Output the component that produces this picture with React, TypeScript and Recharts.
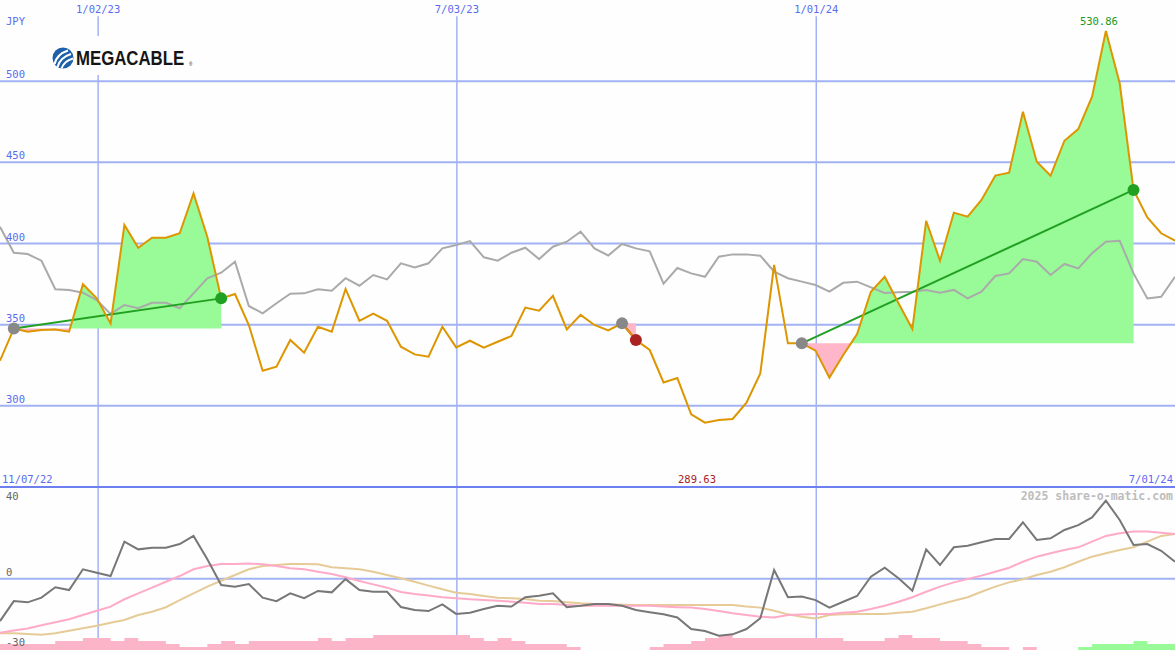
import React from 'react';
import { ComposedChart, Line, Area, XAxis, YAxis, ReferenceLine, ReferenceDot } from 'recharts';

// ---------- data ----------
const weekLabels = { first: '11/07/22', last: '7/01/24' };

const price = [
  327.8, 347.6, 345.7, 346.7, 347.0, 345.7, 374.9, 366.2, 350.8, 411.4,
  397.4, 403.6, 403.6, 406.3, 430.9, 404.0, 366.2, 368.9, 349.8, 321.6,
  324.1, 340.6, 332.7, 348.7, 345.7, 372.0, 352.4, 356.8, 352.4, 336.4,
  331.7, 330.3, 348.7, 336.0, 340.1, 335.8, 339.5, 343.0, 360.5, 358.6,
  367.8, 347.1, 356.0, 349.8, 346.4, 350.8, 340.6, 334.4, 314.4, 317.1,
  294.8, 289.63, 291.3, 291.9, 301.9, 320.0, 386.8, 338.5, 338.5, 334.0,
  317.4, 331.3, 344.2, 370.3, 379.5, 363.2, 347.3, 414.0, 389.4, 419.0,
  416.5, 426.8, 441.8, 443.6, 481.2, 450.4, 441.8, 463.3, 470.5, 490.4,
  530.86, 498.7, 433.0, 416.1, 406.3, 401.7,
];

const relative = [
  410.3, 394.3, 393.5, 389.4, 371.8, 371.4, 369.7, 365.2, 356.6, 362.1,
  360.1, 363.5, 363.5, 360.1, 369.3, 378.6, 382.0, 388.8, 361.5, 357.0,
  363.2, 369.1, 369.3, 371.8, 370.9, 378.6, 374.0, 380.6, 377.9, 387.8,
  385.3, 387.8, 397.0, 399.1, 401.5, 391.5, 389.4, 394.3, 397.4, 390.4,
  398.0, 401.1, 407.3, 397.0, 392.6, 399.7, 397.0, 395.2, 375.2, 384.9,
  381.6, 379.5, 391.9, 393.3, 393.3, 392.5, 382.6, 378.6, 376.5, 374.4,
  370.3, 375.8, 376.5, 373.0, 369.5, 369.9, 370.3, 371.4, 369.7, 371.4,
  366.2, 370.3, 380.0, 381.6, 390.4, 388.8, 380.6, 387.4, 384.7, 394.0,
  401.1, 401.7, 381.6, 366.2, 367.2, 379.5,
];

const osc = [
  -20.8, -11.0, -11.6, -9.3, -4.2, -5.6, 4.6, 2.9, 1.3, 18.2,
  14.4, 15.2, 15.2, 17.0, 21.0, 9.5, -3.1, -3.9, -2.6, -9.3,
  -11.0, -7.2, -9.6, -6.0, -6.7, -0.2, -5.6, -6.4, -6.4, -13.9,
  -15.4, -15.9, -12.6, -17.3, -16.7, -14.9, -13.3, -13.7, -9.1, -8.4,
  -7.2, -14.0, -13.3, -12.4, -12.4, -13.3, -15.4, -16.5, -17.5, -19.0,
  -24.7, -25.7, -28.0, -27.3, -24.7, -19.4, 4.3, -9.1, -8.8, -10.5,
  -14.2, -11.3, -8.5, 1.0, 5.4, 0.2, -5.9, 14.4, 6.7, 15.4,
  16.2, 17.9, 19.5, 19.5, 27.7, 19.0, 19.8, 23.9, 26.3, 30.1,
  38.3, 28.8, 16.5, 17.0, 13.7, 8.3,
];

const oscFast = [
  -26.5, -25.4, -24.4, -22.9, -21.4, -19.9, -17.8, -15.7, -13.7, -10.1,
  -7.2, -4.4, -1.5, 1.3, 4.6, 6.2, 7.2, 7.2, 7.4, 7.1,
  6.2, 5.1, 4.6, 3.4, 2.3, 0.7, -1.1, -2.8, -4.4, -6.5,
  -7.5, -8.3, -9.1, -9.6, -10.1, -10.5, -10.8, -11.3, -11.8, -12.4,
  -12.4, -12.9, -13.3, -13.3, -13.3, -13.3, -13.3, -13.3, -13.7, -14.0,
  -14.2, -14.9, -15.9, -17.0, -17.8, -18.7, -19.0, -17.8, -17.6, -17.3,
  -17.3, -16.7, -16.2, -14.9, -13.3, -11.3, -9.1, -6.4, -3.9, -1.8,
  -0.2, 1.5, 3.4, 5.4, 8.3, 10.8, 12.5, 14.1, 15.4, 18.2,
  21.0, 22.3, 23.1, 23.1, 22.6, 21.9,
];

const oscSlow = [
  -26.8, -26.8, -27.1, -27.5, -26.8, -25.5, -24.3, -23.1, -21.6, -20.3,
  -17.8, -16.2, -14.0, -10.5, -7.2, -3.9, -1.0, 1.8, 4.6, 6.2,
  6.7, 7.2, 7.2, 7.1, 5.6, 5.1, 4.6, 3.4, 1.8, 0.2,
  -1.5, -3.4, -5.2, -6.9, -7.5, -8.5, -9.3, -9.6, -10.0, -10.8,
  -11.0, -11.6, -12.1, -12.4, -12.6, -12.8, -12.9, -12.9, -12.9, -12.9,
  -12.9, -12.9, -12.9, -12.9, -13.7, -14.2, -15.7, -17.5, -18.7, -19.5,
  -17.8, -17.5, -17.3, -17.3, -17.3, -16.7, -16.2, -14.5, -12.6, -10.8,
  -9.1, -6.4, -3.9, -1.8, -0.3, 1.8, 3.4, 5.6, 8.3, 10.8,
  12.5, 14.1, 15.4, 18.2, 21.0, 21.9,
];

const histDown = [
  2, 2, 2, 2, 3, 3, 4, 4, 3, 4,
  3, 3, 2, 1, 1, 2, 3, 2, 3, 3,
  3, 3, 3, 4, 3, 4, 4, 5, 5, 5,
  5, 5, 5, 5, 4, 3, 4, 3, 2, 2,
  2, 1, 0, 0, 0, 0, 0, 1, 2, 2,
  3, 4, 5, 4, 4, 4, 4, 4, 4, 4,
  4, 3, 3, 3, 4, 5, 4, 4, 3, 3,
  2, 1, 1, 0, 1, 0, 0, 0, 0, 0,
  0, 0, 0, 0, 0, 0,
];

const histUp = [
  0, 0, 0, 0, 0, 0, 0, 0, 0, 0,
  0, 0, 0, 0, 0, 0, 0, 0, 0, 0,
  0, 0, 0, 0, 0, 0, 0, 0, 0, 0,
  0, 0, 0, 0, 0, 0, 0, 0, 0, 0,
  0, 0, 0, 0, 0, 0, 0, 0, 0, 0,
  0, 0, 0, 0, 0, 0, 0, 0, 0, 0,
  0, 0, 0, 0, 0, 0, 0, 0, 0, 0,
  0, 0, 0, 0, 0, 0, 0, 0, 1, 2,
  2, 2, 3, 2, 2, 2,
];

const trades = [
  { start: 1, end: 16 },
  { start: 45, end: 46 },
  { start: 58, end: 82 },
];

const dateLines = [
  { x: 7.1, label: '1/02/23' },
  { x: 33.05, label: '7/03/23' },
  { x: 59.05, label: '1/01/24' },
];

const priceTicks = [300, 350, 400, 450, 500];
const oscLabels = [40, 0, -30];
const maxLabel = { value: '530.86', idx: 80 };
const minLabel = { value: '289.63', idx: 51 };

// ---------- layout / style ----------
const W = 1175;
const TOP_H = 487;
const BOT_H = 163;
const X_DOMAIN: [number, number] = [0, 85];
const PRICE_DOMAIN: [number, number] = [250, 550];
const OSC_DOMAIN: [number, number] = [-35, 45];
const HIST_DOMAIN: [number, number] = [0, 54];

const BG = '#fdfefd';
const GRID = '#a3b2f4';
const DIVIDER = '#6e80f0';
const LABEL = '#5b6cf0';
const ORANGE = '#dd9600';
const MONO = "'DejaVu Sans Mono', monospace";
const MARGIN = { top: 0, right: 0, bottom: 0, left: 0 };

const px = (x: number) => (x - X_DOMAIN[0]) / (X_DOMAIN[1] - X_DOMAIN[0]) * W;
const py = (v: number) => (PRICE_DOMAIN[1] - v) / (PRICE_DOMAIN[1] - PRICE_DOMAIN[0]) * TOP_H;
const oy = (v: number) => TOP_H + (OSC_DOMAIN[1] - v) / (OSC_DOMAIN[1] - OSC_DOMAIN[0]) * BOT_H;

function buildTop() {
  const rows: any[] = price.map((p, i) => ({ x: i, price: p, rel: relative[i] }));
  const extra: any[] = [];
  trades.forEach((t, k) => {
    const base = price[t.start];
    for (let i = t.start; i <= t.end; i++) {
      const p = price[i];
      rows[i].green = [base, Math.max(p, base)];
      rows[i].pink = [Math.min(p, base), base];
    }
    for (let i = t.start; i < t.end; i++) {
      const a = price[i] - base;
      const b = price[i + 1] - base;
      if (a * b < 0) {
        const f = a / (a - b);
        extra.push({ x: i + f, price: base, green: [base, base], pink: [base, base] });
      }
    }
    rows[t.start]['trade' + k] = price[t.start];
    rows[t.end]['trade' + k] = price[t.end];
  });
  return [...rows, ...extra].sort((a, b) => a.x - b.x);
}

const topData = buildTop();
const botData = osc.map((v, i) => ({
  x: i,
  osc: v,
  fast: oscFast[i],
  slow: oscSlow[i],
  down: histDown[i],
  up: histUp[i],
}));

const tradeColor = (t: { start: number; end: number }) =>
  price[t.end] >= price[t.start] ? '#22a022' : '#aa2222';

const layer: React.CSSProperties = { position: 'absolute', left: 0 };

export default function App() {
  return (
    <div style={{ position: 'absolute', left: 0, top: 0, width: W, height: 650, background: BG, overflow: 'hidden' }}>
      {/* upper grid (behind) */}
      <div style={{ ...layer, top: 0 }}>
        <ComposedChart width={W} height={TOP_H} data={topData} margin={MARGIN}>
          <XAxis type="number" dataKey="x" domain={X_DOMAIN} hide allowDataOverflow />
          <YAxis type="number" domain={PRICE_DOMAIN} hide allowDataOverflow />
          {priceTicks.map((v) => (
            <ReferenceLine key={v} y={v} stroke={GRID} strokeWidth={2} />
          ))}
          {dateLines.map((d) => (
            <ReferenceLine
              key={d.label}
              segment={[{ x: d.x, y: 540 }, { x: d.x, y: 250 }]}
              stroke={GRID}
              strokeWidth={1.5}
            />
          ))}
        </ComposedChart>
      </div>
      {/* upper series */}
      <div style={{ ...layer, top: 0 }}>
        <ComposedChart width={W} height={TOP_H} data={topData} margin={MARGIN}>
          <XAxis type="number" dataKey="x" domain={X_DOMAIN} hide allowDataOverflow />
          <YAxis type="number" domain={PRICE_DOMAIN} hide allowDataOverflow />
          <Area dataKey="green" type="linear" fill="#98fb98" fillOpacity={1} stroke="none" isAnimationActive={false} dot={false} activeDot={false} />
          <Area dataKey="pink" type="linear" fill="#ffb6c8" fillOpacity={1} stroke="none" isAnimationActive={false} dot={false} activeDot={false} />
          <Line dataKey="rel" type="linear" stroke="#aaaaaa" strokeWidth={2} dot={false} activeDot={false} connectNulls isAnimationActive={false} />
          {trades.map((t, k) => (
            <Line
              key={'t' + k}
              dataKey={'trade' + k}
              type="linear"
              stroke={tradeColor(t)}
              strokeWidth={2}
              dot={false}
              activeDot={false}
              connectNulls
              isAnimationActive={false}
            />
          ))}
          <Line dataKey="price" type="linear" stroke={ORANGE} strokeWidth={2} dot={false} activeDot={false} connectNulls isAnimationActive={false} />
          {trades.map((t, k) => (
            <ReferenceDot key={'s' + k} x={t.start} y={price[t.start]} r={6} fill="#888888" stroke="none" />
          ))}
          {trades.map((t, k) => (
            <ReferenceDot key={'e' + k} x={t.end} y={price[t.end]} r={6} fill={tradeColor(t)} stroke="none" />
          ))}
        </ComposedChart>
      </div>

      {/* lower grid (behind) */}
      <div style={{ ...layer, top: TOP_H }}>
        <ComposedChart width={W} height={BOT_H} data={botData} margin={MARGIN}>
          <XAxis type="number" dataKey="x" domain={X_DOMAIN} hide allowDataOverflow />
          <YAxis type="number" domain={OSC_DOMAIN} hide allowDataOverflow />
          <ReferenceLine y={0} stroke={GRID} strokeWidth={2} />
          {dateLines.map((d) => (
            <ReferenceLine key={d.label} x={d.x} stroke={GRID} strokeWidth={1.5} />
          ))}
        </ComposedChart>
      </div>
      {/* lower series */}
      <div style={{ ...layer, top: TOP_H }}>
        <ComposedChart width={W} height={BOT_H} data={botData} margin={MARGIN}>
          <XAxis type="number" dataKey="x" domain={X_DOMAIN} hide allowDataOverflow />
          <YAxis yAxisId="o" type="number" domain={OSC_DOMAIN} hide allowDataOverflow />
          <YAxis yAxisId="h" type="number" domain={HIST_DOMAIN} hide allowDataOverflow />
          <Area yAxisId="h" dataKey="down" type="stepAfter" fill="#fbb4c8" fillOpacity={1} stroke="none" isAnimationActive={false} dot={false} activeDot={false} />
          <Area yAxisId="h" dataKey="up" type="stepAfter" fill="#98fb98" fillOpacity={1} stroke="none" isAnimationActive={false} dot={false} activeDot={false} />
          <Line yAxisId="o" dataKey="slow" type="linear" stroke="#e6cb98" strokeWidth={2} dot={false} activeDot={false} isAnimationActive={false} />
          <Line yAxisId="o" dataKey="fast" type="linear" stroke="#ffaac8" strokeWidth={2} dot={false} activeDot={false} isAnimationActive={false} />
          <Line yAxisId="o" dataKey="osc" type="linear" stroke="#777777" strokeWidth={2} dot={false} activeDot={false} isAnimationActive={false} />
        </ComposedChart>
      </div>

      <svg width={W} height={650} style={{ position: 'absolute', left: 0, top: 0, pointerEvents: 'none' }}>
        <rect x={0} y={TOP_H - 1} width={W} height={2} fill={DIVIDER} />
        <g fontFamily={MONO} fontSize={10.5} fill={LABEL}>
          <text x={6} y={25}>JPY</text>
          {priceTicks.map((v) => (
            <text key={v} x={6} y={py(v) - 3}>{v}</text>
          ))}
          {dateLines.map((d) => (
            <text key={d.label} x={px(d.x)} y={13} textAnchor="middle">{d.label}</text>
          ))}
          <text x={2} y={483}>{weekLabels.first}</text>
          <text x={1173} y={483} textAnchor="end">{weekLabels.last}</text>
        </g>
        <text x={px(minLabel.idx) - 8} y={483} textAnchor="middle" fontFamily={MONO} fontSize={10.5} fill="#aa2222">{minLabel.value}</text>
        <text x={px(maxLabel.idx) - 7} y={25} textAnchor="middle" fontFamily={MONO} fontSize={10.5} fill="#229922">{maxLabel.value}</text>
        <g fontFamily={MONO} fontSize={10.5} fill="#666666">
          {oscLabels.map((v, i) => (
            <text key={v} x={6} y={i === 0 ? 500 : i === 1 ? oy(v) - 3 : 646}>{v}</text>
          ))}
        </g>
        <text x={1173} y={500} textAnchor="end" fontFamily={MONO} fontSize={11.5} fontWeight="bold" fill="#bdbdbd">2025 share-o-matic.com</text>

        {/* logo */}
        <rect x={50} y={36} width={146} height={39} fill={BG} />
        <circle cx={63} cy={58} r={10.5} fill="#1d5fa9" />
        <path d="M54.5,64 Q57,54 68,50.5" stroke="#ffffff" strokeWidth={2.2} fill="none" />
        <path d="M57.5,67 Q60,57.5 71,54" stroke="#ffffff" strokeWidth={2.2} fill="none" />
        <path d="M61.5,68.5 Q64,61 73,58.5" stroke="#ffffff" strokeWidth={2} fill="none" />
        <g transform="translate(76,65) scale(1,1.15)">
          <text x={0} y={0} fontFamily="'Liberation Sans', sans-serif" fontWeight={700} fontSize={16.8} fill="#151515">MEGACABLE</text>
        </g>
        <text x={189} y={66} fontFamily="'Liberation Sans', sans-serif" fontSize={4.5} fill="#151515">®</text>
      </svg>
    </div>
  );
}
